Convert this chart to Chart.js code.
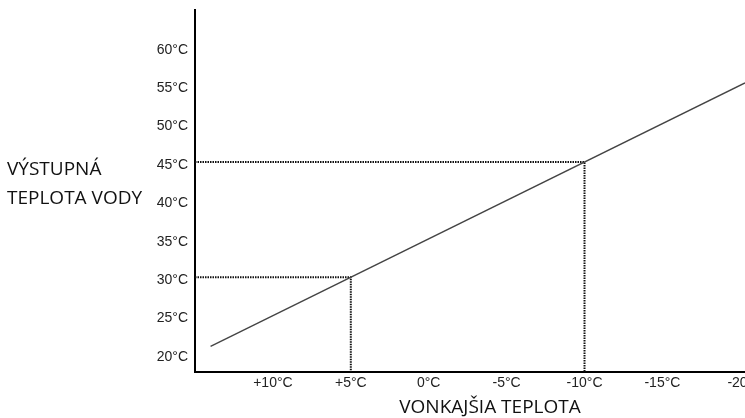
<!DOCTYPE html>
<html>
<head>
<meta charset="utf-8">
<script src="https://cdn.jsdelivr.net/npm/chart.js@4/dist/chart.umd.min.js"></script>
<style>
  html, body { margin: 0; padding: 0; background: #fff; }
  #wrap { width: 745px; height: 418px; }
</style>
</head>
<body>
<div id="wrap"><canvas id="c"></canvas></div>
<script>
// heating curve: outdoor temp -> flow water temp
const curveOutdoor = [14, -20.3];
const curveWater = [21, 55.3];

// marked example points (dotted guides)
const markOutdoor = [5, -10];
const markWater = [30, 45];

const xTicks = [10, 5, 0, -5, -10, -15, -20];
const xTickLabels = ['+10°C', '+5°C', '0°C', '-5°C', '-10°C', '-15°C', '-20°'];
const yTicks = [20, 25, 30, 35, 40, 45, 50, 55, 60];

const xMin = -20.3, xMax = 15;
const yMin = 17.65, yMax = 64.8;

const yTitle = ['VÝSTUPNÁ', 'TEPLOTA VODY'];
const xTitle = 'VONKAJŠIA TEPLOTA';

const guideSets = markOutdoor.map((t, i) => ({
  data: [{ x: xMax, y: markWater[i] }, { x: t, y: markWater[i] }, { x: t, y: yMin }],
  borderColor: '#111',
  borderWidth: 2,
  borderDash: [1.5, 1],
  pointRadius: 0,
  fill: false,
}));

const titlesPlugin = {
  id: 'titles',
  afterDraw(chart) {
    const { ctx } = chart;
    ctx.save();
    ctx.fillStyle = '#111';
    ctx.font = '19px "Open Sans"';
    ctx.textBaseline = 'middle';
    ctx.textAlign = 'left';
    ctx.fillText(yTitle[0], 7, 170);
    ctx.fillText(yTitle[1], 7, 199);
    ctx.textAlign = 'center';
    ctx.fillText(xTitle, 490, 408);
    ctx.restore();
  },
};

new Chart(document.getElementById('c'), {
  type: 'scatter',
  data: {
    datasets: [
      {
        data: curveOutdoor.map((t, i) => ({ x: t, y: curveWater[i] })),
        showLine: true,
        borderColor: '#444',
        borderWidth: 1.4,
        pointRadius: 0,
        fill: false,
      },
      ...guideSets.map((d) => ({ ...d, showLine: true })),
    ],
  },
  options: {
    responsive: true,
    maintainAspectRatio: false,
    animation: false,
    events: [],
    layout: { padding: { top: 10, right: 0, left: 0, bottom: 0 } },
    plugins: { legend: { display: false }, tooltip: { enabled: false } },
    scales: {
      x: {
        type: 'linear',
        reverse: true,
        min: xMin,
        max: xMax,
        afterBuildTicks: (s) => { s.ticks = xTicks.map((v) => ({ value: v })); },
        afterFit: (s) => { s.height = 46; s.paddingLeft = 0; s.paddingRight = 0; },
        grid: { display: false, drawTicks: false },
        border: { display: true, color: '#000', width: 2 },
        ticks: {
          color: '#222',
          font: { family: 'Liberation Sans', size: 14 },
          padding: 3,
          maxRotation: 0,
          autoSkip: false,
          callback: (v) => xTickLabels[xTicks.indexOf(v)],
        },
      },
      y: {
        type: 'linear',
        min: yMin,
        max: yMax,
        afterBuildTicks: (s) => { s.ticks = yTicks.map((v) => ({ value: v })); },
        afterFit: (s) => { s.width = 195; s.paddingTop = 0; s.paddingBottom = 0; },
        grid: { display: false, drawTicks: false },
        border: { display: true, color: '#000', width: 2 },
        ticks: {
          color: '#222',
          font: { family: 'Liberation Sans', size: 14 },
          padding: 7,
          labelOffset: 3,
          autoSkip: false,
          callback: (v) => v + '°C',
        },
      },
    },
  },
  plugins: [titlesPlugin],
});
</script>
</body>
</html>
